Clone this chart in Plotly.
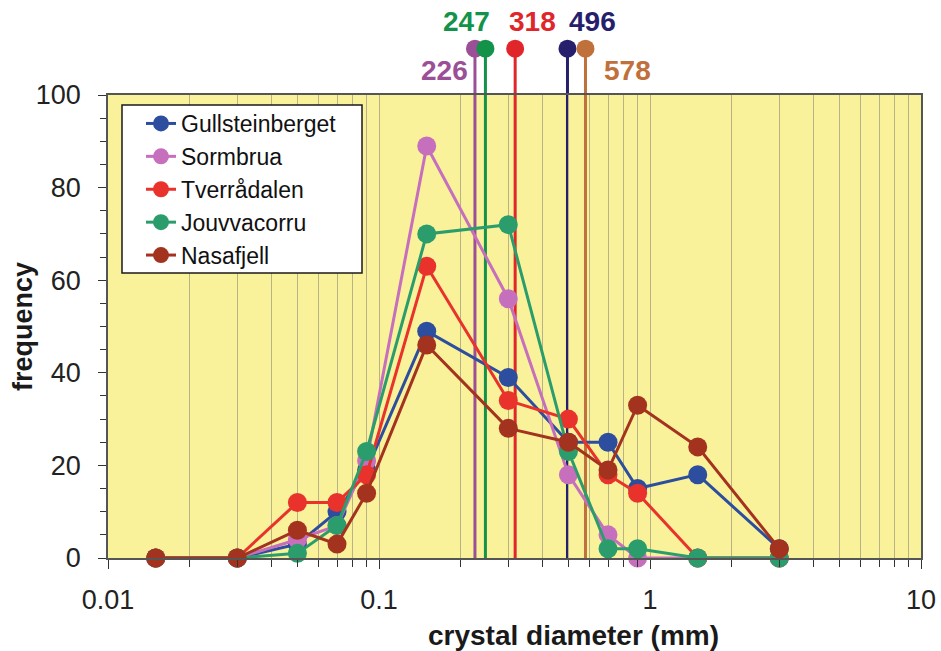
import numpy as np
import plotly.graph_objects as go

# Crystal size classes (mm) and frequency counts per locality
diameter = [0.015, 0.03, 0.05, 0.07, 0.09, 0.15, 0.3, 0.5, 0.7, 0.9, 1.5, 3.0]
gullsteinberget = [0, 0, 3, 10, 19, 49, 39, 25, 25, 15, 18, 2]
sormbrua = [0, 0, 4, 7, 21, 89, 56, 18, 5, 0, 0, 0]
tverradalen = [0, 0, 12, 12, 18, 63, 34, 30, 18, 14, 0, 0]
jouvvacorru = [0, 0, 1, 7, 23, 70, 72, 23, 2, 2, 0, 0]
nasafjell = [0, 0, 6, 3, 14, 46, 28, 25, 19, 33, 24, 2]

series_names = ["Gullsteinberget", "Sormbrua", "Tverrådalen", "Jouvvacorru", "Nasafjell"]
series_values = [gullsteinberget, sormbrua, tverradalen, jouvvacorru, nasafjell]
series_colors = ["#2d4d9e", "#c66fbd", "#e8322b", "#2b9d6c", "#a3321f"]

# Median crystal size (µm) per locality
median_um = [226, 247, 318, 496, 578]
median_colors = ["#9b4f96", "#13934a", "#e0262b", "#26206c", "#c0703a"]
# label placement: (anchor, pixel shift, level)
median_label_pos = [("right", -5, "low"), ("right", 7, "high"), ("left", -8, "high"),
                    ("left", 0, "high"), ("left", 17, "low")]

FONT = "Liberation Sans, Arial, sans-serif"
W, H = 941, 651
M_L, M_R, M_T, M_B = 108, 20, 0, 93
paper_h = H - M_T - M_B
plot_w = W - M_L - M_R
plot_top_px = 95
data_frac = (H - M_B - plot_top_px) / paper_h
tall_top = 100 / data_frac
STEM_TOP = 110

fig = go.Figure()

# median stems on the tall overlay subplot (x / y)
for d, c in zip(median_um, median_colors):
    fig.add_trace(go.Scatter(
        x=[d / 1000, d / 1000], y=[0, STEM_TOP], mode="lines",
        line=dict(color=c, width=3),
        xaxis="x", yaxis="y", showlegend=False, hoverinfo="skip"))
    fig.add_trace(go.Scatter(
        x=[d / 1000], y=[STEM_TOP], mode="markers",
        marker=dict(size=18, color=c, opacity=1, line=dict(width=0)),
        xaxis="x", yaxis="y", showlegend=False, cliponaxis=False,
        hoverinfo="skip"))

# frequency curves on the main subplot (x2 / y2)
for name, vals, c in zip(series_names, series_values, series_colors):
    fig.add_trace(go.Scatter(
        x=diameter, y=vals, mode="lines+markers", name=name,
        line=dict(color=c, width=3),
        marker=dict(size=19, color=c),
        xaxis="x2", yaxis="y2", cliponaxis=False))

annotations = []
for d, c, (anc, shift, level) in zip(median_um, median_colors, median_label_pos):
    annotations.append(dict(
        text=f"<b>{d}</b>", x=np.log10(d / 1000), y=115.8 if level == "high" else 105.2,
        xref="x", yref="y", xanchor=anc, yanchor="middle", xshift=shift,
        showarrow=False, font=dict(family=FONT, size=28, color=c)))

annotations.append(dict(
    text="<b>crystal diameter (mm)</b>", x=(573 - M_L) / plot_w,
    y=-(635 - (H - M_B)) / paper_h, xref="paper", yref="paper",
    xanchor="center", yanchor="middle", showarrow=False,
    font=dict(family=FONT, size=28, color="#1a1a1a")))
annotations.append(dict(
    text="<b>frequency</b>", x=-(M_L - 23) / plot_w,
    y=((H - M_B) - 327) / paper_h, xref="paper", yref="paper", textangle=-90,
    xanchor="center", yanchor="middle", showarrow=False,
    font=dict(family=FONT, size=27, color="#1a1a1a")))

minor_vals = [m * 10.0 ** e for e in (-2, -1, 0) for m in range(2, 10)]

shapes = [
    # yellow plotting area
    dict(type="rect", xref="x2 domain", yref="y2 domain", x0=0, x1=1, y0=0, y1=1,
         fillcolor="#f9f29b", line=dict(width=0), layer="below"),
    # legend frame
    dict(type="rect", xref="paper", yref="paper",
         x0=(122 - M_L) / plot_w, x1=(362 - M_L) / plot_w,
         y0=((H - M_B) - 273) / paper_h, y1=((H - M_B) - 105) / paper_h,
         fillcolor="white", line=dict(color="#1a1a1a", width=1.5), layer="above"),
]

fig.update_layout(
    width=W, height=H,
    margin=dict(l=M_L, r=M_R, t=M_T, b=M_B, autoexpand=False),
    paper_bgcolor="white", plot_bgcolor="rgba(0,0,0,0)",
    font=dict(family=FONT, size=27, color="#222222"),
    xaxis=dict(type="log", range=[-2, 1], domain=[0, 1], anchor="y", visible=False),
    yaxis=dict(range=[0, tall_top], domain=[0, 1], anchor="x", visible=False),
    xaxis2=dict(
        type="log", range=[-2, 1], domain=[0, 1], anchor="y2",
        tickvals=[0.01, 0.1, 1, 10], ticktext=["0.01", "0.1", "1", "10"],
        ticks="outside", ticklen=9, tickwidth=1.2, tickcolor="#333333",
        ticklabelstandoff=8,
        showgrid=True, gridcolor="#b7b386", gridwidth=1,
        minor=dict(tickvals=minor_vals, ticks="outside", ticklen=7, tickcolor="#333333",
                   showgrid=True, gridcolor="#b7b386", gridwidth=1),
        showline=True, linecolor="#555555", linewidth=1.5, mirror=True,
        zeroline=False, tickfont=dict(size=27, color="#222222")),
    yaxis2=dict(
        range=[0, 100], domain=[0, data_frac], anchor="x2",
        tickvals=[0, 20, 40, 60, 80, 100],
        ticks="outside", ticklen=8, tickwidth=1.2, tickcolor="#333333",
        ticklabelstandoff=12,
        minor=dict(dtick=5, ticks="outside", ticklen=6, tickcolor="#333333"),
        showgrid=False, zeroline=False,
        showline=True, linecolor="#555555", linewidth=1.5, mirror=True,
        tickfont=dict(size=27, color="#222222")),
    legend=dict(
        x=(141 - M_L) / plot_w, y=((H - M_B) - 102) / paper_h,
        xanchor="left", yanchor="top", bgcolor="rgba(0,0,0,0)", borderwidth=0,
        font=dict(family=FONT, size=23, color="#111111"), tracegroupgap=0),
    shapes=shapes,
    annotations=annotations,
)

fig.write_html("out.html")
